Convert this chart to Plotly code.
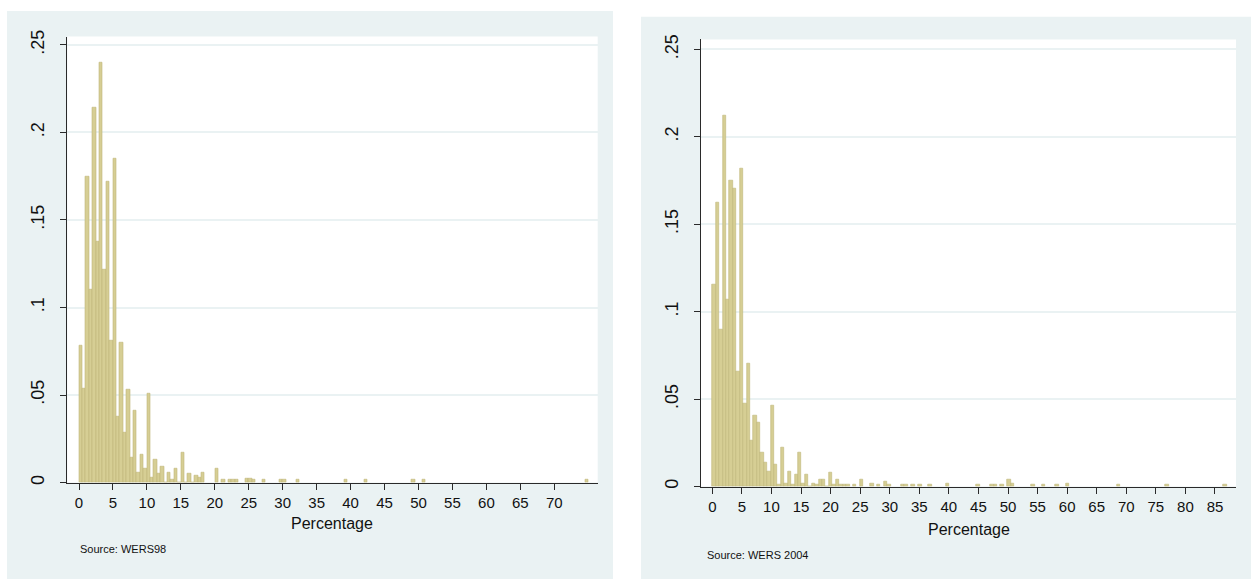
import plotly.graph_objects as go

# ---------------- data (density histograms, 150 bins each) ----------------
# WERS98: range 0-75, bin width 0.5
w98_width = 0.5
w98_head_dens = [0.078, 0.054, 0.175, 0.110, 0.214, 0.1375, 0.240, 0.1216, 0.172, 0.081,
                 0.185, 0.0375, 0.080, 0.0287, 0.053, 0.0143, 0.041, 0.006, 0.016, 0.008,
                 0.051, 0.003, 0.013, 0.005, 0.0094, 0.0, 0.006, 0.002, 0.008, 0.0,
                 0.0173, 0.0, 0.005, 0.0, 0.004, 0.003, 0.006]
w98_tail_bin = [40, 42, 44, 45, 46, 49, 50, 51, 54, 59, 60, 64, 78, 84, 98, 101, 149]
w98_tail_dens = [0.008, 0.0017, 0.0017, 0.0017, 0.0017, 0.0025, 0.0025, 0.0017, 0.0017,
                 0.0017, 0.0017, 0.0017, 0.0015, 0.0015, 0.0015, 0.0015, 0.0015]

# WERS 2004: range 0-87, bin width 0.58
w04_width = 0.58
w04_head_dens = [0.1154, 0.1626, 0.0897, 0.2124, 0.107, 0.1752, 0.1705, 0.0656, 0.1816, 0.0474,
                 0.0703, 0.0261, 0.0408, 0.0367, 0.0195, 0.0137, 0.0088, 0.0464, 0.0125, 0.0012,
                 0.0223, 0.0016, 0.0086, 0.001, 0.0067, 0.0194, 0.0015, 0.0067, 0.0, 0.002,
                 0.001, 0.004, 0.004, 0.0, 0.0078, 0.001, 0.004, 0.001, 0.001, 0.001]
w04_tail_bin = [41, 43, 46, 48, 50, 51, 55, 56, 58, 60, 63, 68, 77, 81, 82, 84, 86, 87,
                93, 96, 100, 103, 118, 132, 149]
w04_tail_dens = [0.001, 0.004, 0.002, 0.001, 0.003, 0.001, 0.001, 0.001, 0.001, 0.001,
                 0.001, 0.002, 0.001, 0.001, 0.001, 0.001, 0.004, 0.002, 0.001, 0.001,
                 0.001, 0.002, 0.001, 0.001, 0.001]

y_tickvals = [0, 0.05, 0.1, 0.15, 0.2, 0.25]
y_ticktext = ["0", ".05", ".1", ".15", ".2", ".25"]
x98_ticks = list(range(0, 75, 5))
x04_ticks = list(range(0, 90, 5))

x_title = "Percentage"
src98 = "Source: WERS98"
src04 = "Source: WERS 2004"

# ---------------- helpers ----------------
W, H = 1251, 586
def px(x):
    return x / W
def py(y):
    return 1 - y / H

def centers(head, tail_bin, tail_dens, width):
    bins = list(range(len(head))) + list(tail_bin)
    dens = list(head) + list(tail_dens)
    return [(b + 0.5) * width for b in bins], dens

x98, d98 = centers(w98_head_dens, w98_tail_bin, w98_tail_dens, w98_width)
x04, d04 = centers(w04_head_dens, w04_tail_bin, w04_tail_dens, w04_width)

bar_fill = "rgb(214,206,148)"
bar_line = "rgb(192,183,120)"
bg_panel = "rgb(234,242,243)"
axis_col = "#2a2a2a"
FONT = "Liberation Sans, Arial, sans-serif"

fig = go.Figure()
fig.add_trace(go.Bar(x=x98, y=d98, width=w98_width, xaxis="x", yaxis="y",
                     marker=dict(color=bar_fill, line=dict(color=bar_line, width=0.6)),
                     showlegend=False, hoverinfo="x+y"))
fig.add_trace(go.Bar(x=x04, y=d04, width=w04_width, xaxis="x2", yaxis="y2",
                     marker=dict(color=bar_fill, line=dict(color=bar_line, width=0.6)),
                     showlegend=False, hoverinfo="x+y"))

# plot area pixel boxes
L = dict(x0=67.3, x1=597.7, y0=30, y1=483, zero_px=79.0, ppu=6.79, ypp=1778.0)
R = dict(x0=701.0, x1=1236.0, y0=33, y1=487, zero_px=712.3, ppu=5.914, ypp=1776.0)

def xrange(b):
    return [(b["x0"] - b["zero_px"]) / b["ppu"], (b["x1"] - b["zero_px"]) / b["ppu"]]
def yrange(b):
    return [0, (b["y1"] - b["y0"]) / b["ypp"]]

common_x = dict(showline=True, linecolor=axis_col, linewidth=1, ticks="outside", ticklen=6,
                tickcolor=axis_col, tickwidth=1, showgrid=False, zeroline=False,
                tickfont=dict(family=FONT, size=15, color="#111"), fixedrange=True)
common_y = dict(showline=True, linecolor=axis_col, linewidth=1, ticks="outside", ticklen=6,
                tickcolor=axis_col, tickwidth=1, showgrid=True, gridcolor=bg_panel, gridwidth=2,
                zeroline=False, tickvals=y_tickvals, ticktext=y_ticktext, tickangle=-90,
                tickfont=dict(family=FONT, size=18, color="#111"), fixedrange=True,
                ticklabelstandoff=9)

fig.update_layout(
    width=W, height=H, margin=dict(l=0, r=0, t=0, b=0),
    paper_bgcolor="white", plot_bgcolor="rgba(0,0,0,0)", bargap=0,
    xaxis=dict(domain=[px(L["x0"]), px(L["x1"])], range=xrange(L), anchor="y",
               tickvals=x98_ticks, **common_x),
    yaxis=dict(domain=[py(L["y1"]), py(L["y0"])], range=yrange(L), anchor="x", **common_y),
    xaxis2=dict(domain=[px(R["x0"]), px(R["x1"])], range=xrange(R), anchor="y2",
                tickvals=x04_ticks, **common_x),
    yaxis2=dict(domain=[py(R["y1"]), py(R["y0"])], range=yrange(R), anchor="x2", **common_y),
    shapes=[
        dict(type="rect", xref="paper", yref="paper", x0=px(7), x1=px(613), y0=py(581), y1=py(4),
             fillcolor=bg_panel, line=dict(width=0), layer="below"),
        dict(type="rect", xref="paper", yref="paper", x0=px(641), x1=px(1251), y0=py(581), y1=py(10),
             fillcolor=bg_panel, line=dict(width=0), layer="below"),
        dict(type="rect", xref="paper", yref="paper", x0=px(L["x0"]), x1=px(L["x1"]),
             y0=py(L["y1"]), y1=py(L["y0"]), fillcolor="white", line=dict(width=0), layer="below"),
        dict(type="rect", xref="paper", yref="paper", x0=px(R["x0"]), x1=px(R["x1"]),
             y0=py(R["y1"]), y1=py(R["y0"]), fillcolor="white", line=dict(width=0), layer="below"),
    ],
    annotations=[
        dict(text=x_title, xref="paper", yref="paper", x=px((L["x0"] + L["x1"]) / 2), y=py(525),
             xanchor="center", yanchor="middle", showarrow=False,
             font=dict(family=FONT, size=16, color="#111")),
        dict(text=x_title, xref="paper", yref="paper", x=px((R["x0"] + R["x1"]) / 2), y=py(531),
             xanchor="center", yanchor="middle", showarrow=False,
             font=dict(family=FONT, size=16, color="#111")),
        dict(text=src98, xref="paper", yref="paper", x=px(78), y=py(550),
             xanchor="left", yanchor="middle", showarrow=False,
             font=dict(family=FONT, size=11, color="#111")),
        dict(text=src04, xref="paper", yref="paper", x=px(705), y=py(557),
             xanchor="left", yanchor="middle", showarrow=False,
             font=dict(family=FONT, size=11, color="#111")),
    ],
)

fig.write_html("out.html", config={"displayModeBar": False},
               post_script="document.body.style.margin='0';document.body.style.overflow='hidden';")
